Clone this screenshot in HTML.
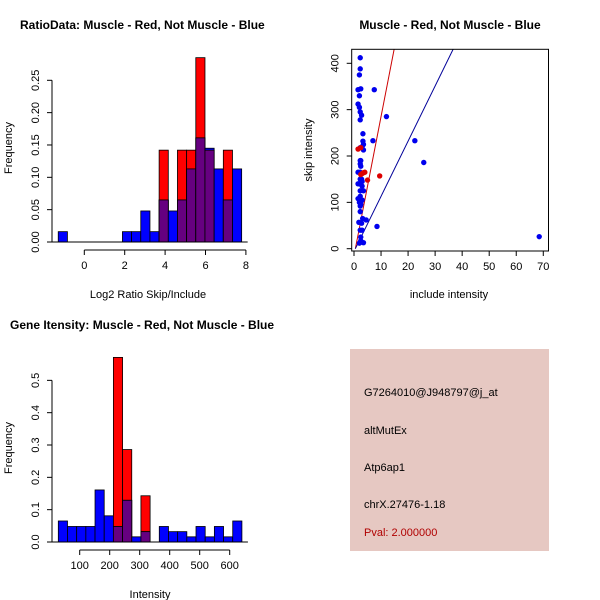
<!DOCTYPE html>
<html><head><meta charset="utf-8"><style>
html,body{margin:0;padding:0;background:#fff;width:600px;height:600px;overflow:hidden}
svg{font-family:"Liberation Sans",sans-serif;display:block}
</style></head><body>
<svg id="s" width="600" height="600" viewBox="0 0 600 600" xmlns="http://www.w3.org/2000/svg">
<rect x="350" y="349" width="199" height="202" fill="#e6c8c2"/>
<g font-size="11" fill="#000">
<text x="364" y="396">G7264010@J948797@j_at</text>
<text x="364" y="434">altMutEx</text>
<text x="364" y="471">Atp6ap1</text>
<text x="364" y="508">chrX.27476-1.18</text>
<text x="364" y="536" fill="#b00000">Pval: 2.000000</text>
</g>
</svg>
<script>
// Histogram 1 (log2 ratio)
const h1Start=-1.29, h1Width=0.454;
const h1Blue=[0.016,0,0,0,0,0,0,0.016,0.016,0.048,0.016,0.065,0.048,0.065,0.113,0.161,0.145,0.113,0.065,0.113];
const h1Red=[0,0,0,0,0,0,0,0,0,0,0,0.142,0,0.142,0.142,0.285,0.142,0,0.142,0];
const h1XTicks=[0,2,4,6,8];
const h1YTicks=["0.00","0.05","0.10","0.15","0.20","0.25"];
// Histogram 2 (intensity)
const h2Start=28.7, h2Width=30.6;
const h2Blue=[0.065,0.048,0.048,0.048,0.161,0.081,0.048,0.129,0.016,0.032,0,0.048,0.032,0.032,0.016,0.048,0.016,0.048,0.016,0.065];
const h2Red=[0,0,0,0,0,0,0.571,0.286,0,0.143,0,0,0,0,0,0,0,0,0,0];
const h2XTicks=[100,200,300,400,500,600];
const h2YTicks=["0.0","0.1","0.2","0.3","0.4","0.5"];
// Scatter
const blueX=[2.3,2.3,2,1.5,2.5,2,1.5,2,2.3,2.8,2.3,7.5,12,3.3,3.3,3.5,7,3,2.3,3.5,22.5,25.8,2.5,2.3,2.5,2.3,1.5,2.3,2,1.5,3,3,2.3,3.5,2.3,2,2.5,2.5,2.3,3,2.3,4.5,3.2,8.5,1.8,2.8,2.3,3,2.5,2.5,3.5,2,68.5,2.3,2.8,1.5,2];
const blueY=[412,388,375,343,345,330,312,305,295,288,278,343,285,248,232,225,233,220,218,213,233,186,190,183,178,165,165,150,140,140,145,135,125,125,113,108,100,95,92,105,80,62,65,48,57,55,40,40,25,17,13,12,26,190,150,108,100];
const redX=[1.5,2.5,3,4,9.5,5,2.5,3.5];
const redY=[215,218,162,165,157,148,160,164];
const redLine=[0.5,30]; // intercept-x, slope
const blueLine=[0.5,11.9];
const sXTicks=[0,10,20,30,40,50,60,70];
const sYTicks=[0,100,200,300,400];

const NS="http://www.w3.org/2000/svg", svg=document.getElementById('s');
function mk(tag,attrs,parent){const e=document.createElementNS(NS,tag);for(const k in attrs)e.setAttribute(k,attrs[k]);(parent||svg).appendChild(e);return e;}
function txt(x,y,s,opts,parent){const t=mk('text',Object.assign({x:x,y:y},opts||{}),parent);t.textContent=s;return t;}

function hist(cfg){
  const g=mk('g',{});
  
  
  const X=v=>cfg.x0px+(v-cfg.x0v)*cfg.xs, Y=v=>cfg.y0px-v*cfg.ys;
  for(let i=0;i<cfg.blue.length;i++){
    const l=X(cfg.start+i*cfg.width), r=X(cfg.start+(i+1)*cfg.width), w=r-l;
    const b=cfg.blue[i], rd=cfg.red[i];
    if(rd>0){const e=mk('rect',{x:l,y:Y(rd),width:w,height:Y(0)-Y(rd),fill:'#ff0000',stroke:'#000','stroke-width':0.8},g);
      
      }
    if(b>0){const e=mk('rect',{x:l,y:Y(b),width:w,height:Y(0)-Y(b),fill:'#0000ff',stroke:'#000','stroke-width':0.8},g);
      
      }
    const m=Math.min(b,rd);
    if(m>0){const e=mk('rect',{x:l,y:Y(m),width:w,height:Y(0)-Y(m),fill:'#660080',stroke:'#000','stroke-width':0.8},g);
      
      }
  }
  mk('line',{x1:cfg.yAxisX,x2:X(cfg.start+cfg.blue.length*cfg.width)+6,y1:Y(0),y2:Y(0),stroke:'#000'},g);
  // y axis
  const ya=mk('g',{},g);
  
  
  const ax=cfg.yAxisX;
  mk('line',{x1:ax,x2:ax,y1:Y(0),y2:Y(cfg.yStep*(cfg.yTicks.length-1)),stroke:'#000'},ya);
  cfg.yTicks.forEach((lab,i)=>{const y=Y(i*cfg.yStep);mk('line',{x1:ax-5,x2:ax,y1:y,y2:y,stroke:'#000'},ya);
    txt(ax-13,y,lab,{'font-size':11,'text-anchor':'middle',transform:`rotate(-90 ${ax-13} ${y})`},ya);});
  // x axis
  const xa=mk('g',{},g);
  
  
  const ay=cfg.xAxisY;
  mk('line',{x1:X(cfg.xTicks[0]),x2:X(cfg.xTicks[cfg.xTicks.length-1]),y1:ay,y2:ay,stroke:'#000'},xa);
  cfg.xTicks.forEach(v=>{const x=X(v);mk('line',{x1:x,x2:x,y1:ay,y2:ay+5,stroke:'#000'},xa);
    txt(x,ay+19,String(v),{'font-size':11,'text-anchor':'middle'},xa);});
}
hist({name:'ratio-histogram',start:h1Start,width:h1Width,blue:h1Blue,red:h1Red,x0px:84.3,x0v:0,xs:20.2,y0px:242,ys:646.8,
  yAxisX:52,yStep:0.05,yTicks:h1YTicks,xAxisY:250,xTicks:h1XTicks});
hist({name:'intensity-histogram',start:h2Start,width:h2Width,blue:h2Blue,red:h2Red,x0px:79.7,x0v:100,xs:0.3,y0px:542,ys:323.3,
  yAxisX:52,yStep:0.1,yTicks:h2YTicks,xAxisY:550,xTicks:h2XTicks});

// titles and labels
function label(x,y,s,name,opts){const t=txt(x,y,s,opts);}
label(20,29,'RatioData: Muscle - Red, Not Muscle - Blue','ratio-title',{'font-size':12,'font-weight':'bold'});
label(10,329,'Gene Itensity: Muscle - Red, Not Muscle - Blue','intensity-title',{'font-size':12,'font-weight':'bold'});
label(450,29,'Muscle - Red, Not Muscle - Blue','scatter-title',{'font-size':12,'font-weight':'bold','text-anchor':'middle'});
label(148,298,'Log2 Ratio Skip/Include','ratio-x-title',{'font-size':11,'text-anchor':'middle'});
label(150,598,'Intensity','intensity-x-title',{'font-size':11,'text-anchor':'middle'});
label(449,298,'include intensity','scatter-x-title',{'font-size':11,'text-anchor':'middle'});
label(12,148,'Frequency','ratio-y-title',{'font-size':11,'text-anchor':'middle',transform:'rotate(-90 12 148)'});
label(12,448,'Frequency','intensity-y-title',{'font-size':11,'text-anchor':'middle',transform:'rotate(-90 12 448)'});
label(312,150,'skip intensity','scatter-y-title',{'font-size':11,'text-anchor':'middle',transform:'rotate(-90 312 150)'});

// scatter
const SX=v=>354+v*2.704, SY=v=>248.7-v*0.4635;
const sg=mk('g',{});


const box={l:351.7,t:49.3,r:548.5,b:251};
const cp=mk('clipPath',{id:'cp'},sg);
mk('rect',{x:box.l,y:box.t,width:box.r-box.l,height:box.b-box.t},cp);
const lines=mk('g',{'clip-path':'url(#cp)'},sg);
[[redLine,'#cc0000','red-fit-line'],[blueLine,'#000099','blue-fit-line']].forEach(([p,c,n])=>{
  const x1=p[0], y1=0, x2=80, y2=(80-p[0])*p[1];
  const l=mk('line',{x1:SX(x1),y1:SY(y1),x2:SX(x2),y2:SY(y2),stroke:c,'stroke-width':1},lines);
  
  
});
blueX.forEach((x,i)=>{const c=mk('circle',{cx:SX(x),cy:SY(blueY[i]),r:2.7,fill:'#0000ee'},sg);
  
  });
redX.forEach((x,i)=>{const c=mk('circle',{cx:SX(x),cy:SY(redY[i]),r:2.7,fill:'#dd0000'},sg);
  
  });
mk('rect',{x:box.l,y:box.t,width:box.r-box.l,height:box.b-box.t,fill:'none',stroke:'#000'},sg);
const sxa=mk('g',{},sg);


sXTicks.forEach(v=>{const x=SX(v);mk('line',{x1:x,x2:x,y1:box.b,y2:box.b+5,stroke:'#000'},sxa);txt(x,box.b+19,String(v),{'font-size':11,'text-anchor':'middle'},sxa);});
const sya=mk('g',{},sg);


sYTicks.forEach(v=>{const y=SY(v);mk('line',{x1:box.l-5,x2:box.l,y1:y,y2:y,stroke:'#000'},sya);txt(box.l-13,y,String(v),{'font-size':11,'text-anchor':'middle',transform:`rotate(-90 ${box.l-13} ${y})`},sya);});
</script>
</body></html>
